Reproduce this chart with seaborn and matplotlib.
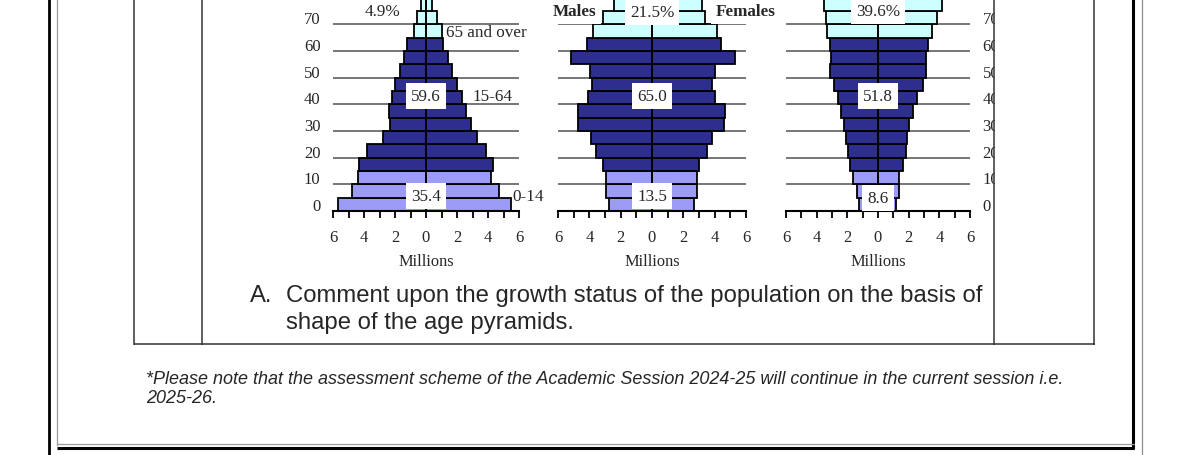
import matplotlib
matplotlib.use("Agg")
import matplotlib.pyplot as plt
import matplotlib.transforms as mtransforms
from matplotlib.patches import Rectangle
from matplotlib.ticker import MultipleLocator
import pandas as pd
import seaborn as sns

# ---- data -------------------------------------------------------------
age_start = [0, 5, 10, 15, 20, 25, 30, 35, 40, 45, 50, 55, 60, 65, 70, 75]
age_group = ["0-14"] * 3 + ["15-64"] * 10 + ["65+"] * 3

# millions, youngest group first
males_1 = [5.7, 4.8, 4.4, 4.3, 3.8, 2.8, 2.3, 2.4, 2.2, 2.0, 1.7, 1.4, 1.2, 0.8, 0.55, 0.3]
females_1 = [5.5, 4.7, 4.2, 4.3, 3.9, 3.3, 2.9, 2.6, 2.3, 2.0, 1.7, 1.4, 1.1, 1.0, 0.7, 0.4]

males_2 = [2.75, 2.95, 2.95, 3.15, 3.6, 3.9, 4.7, 4.7, 4.1, 3.85, 3.95, 5.15, 4.15, 3.75, 3.15, 2.4]
females_2 = [2.7, 2.85, 2.9, 3.0, 3.5, 3.85, 4.6, 4.65, 4.0, 3.8, 4.0, 5.3, 4.4, 4.15, 3.4, 3.2]

males_3 = [1.25, 1.35, 1.6, 1.8, 1.95, 2.1, 2.25, 2.4, 2.6, 2.9, 3.1, 3.05, 3.15, 3.3, 3.4, 3.55]
females_3 = [1.15, 1.35, 1.4, 1.6, 1.8, 1.9, 2.05, 2.25, 2.55, 2.95, 3.15, 3.1, 3.25, 3.55, 3.85, 4.2]

# share labels per panel: (0-14, 15-64, 65+)
shares_1 = ["35.4", "59.6", "4.9%"]
shares_2 = ["13.5", "65.0", "21.5%"]
shares_3 = ["8.6", "51.8", "39.6%"]

age_ticks = [0, 10, 20, 30, 40, 50, 60, 70]
age_tick_labels = ["0", "10", "20", "30", "40", "50", "60", "70"]
x_ticks = [-6, -4, -2, 0, 2, 4, 6]
x_tick_labels = ["6", "4", "2", "0", "2", "4", "6"]

group_colors = {"0-14": "#9c9cf7", "15-64": "#2e2e8e", "65+": "#ccffff"}

question = "Comment upon the growth status of the population on the basis of"
question_2 = "shape of the age pyramids."
note_1 = ("*Please note that the assessment scheme of the Academic Session 2024-25 "
          "will continue in the current session i.e.")
note_2 = "2025-26."

# ---- figure -----------------------------------------------------------
sns.set_style("white")
plt.rcParams["font.family"] = ["Liberation Serif", "DejaVu Serif"]

W, H = 1191, 456
fig = plt.figure(figsize=(W / 100, H / 100), dpi=100)
fig.patch.set_facecolor("white")

PX_PER_YEAR = 2.667
YTOP = 85
FS = 12.3


def panel_axes(x0, x1, base):
    h = YTOP * PX_PER_YEAR
    return fig.add_axes([x0 / W, (H - base) / H, (x1 - x0) / W, h / H])


def pyramid(ax, males, females, side):
    for vals, sign in ((males, -1), (females, 1)):
        df = pd.DataFrame({
            "age": [a + 2.5 for a in age_start],
            "pop": [sign * v for v in vals],
            "group": age_group,
        })
        sns.barplot(data=df, x="pop", y="age", hue="group", palette=group_colors,
                    orient="y", native_scale=True, dodge=False, width=1,
                    saturation=1, errorbar=None, edgecolor="black",
                    linewidth=1.3, legend=False, ax=ax)
    ax.axvline(0, color="black", lw=1.3, zorder=3)
    ax.set_xlim(-6, 6)
    ax.set_ylim(0, YTOP)
    ax.set_facecolor("none")
    for s in ("left", "right", "top"):
        ax.spines[s].set_visible(False)
    ax.spines["bottom"].set_color("black")
    ax.spines["bottom"].set_linewidth(1.5)
    ax.set_xticks(x_ticks)
    ax.set_xticklabels(x_tick_labels)
    ax.xaxis.set_minor_locator(MultipleLocator(1))
    ax.tick_params(axis="x", which="both", direction="out", length=5, width=1.3,
                   color="black", labelsize=FS - 0.3, pad=8, bottom=True)
    ax.set_xlabel("Millions", fontsize=FS - 0.5, labelpad=6)
    ax.set_ylabel("")
    ax.set_yticks(age_ticks)
    ax.yaxis.grid(True, color="#767676", lw=1.4)
    ax.xaxis.grid(False)
    ax.set_axisbelow(True)
    if side == "left":
        ax.set_yticklabels(age_tick_labels)
        ax.tick_params(axis="y", length=0, labelsize=FS - 0.3, pad=9)
    elif side == "right":
        ax.yaxis.tick_right()
        ax.set_yticklabels(age_tick_labels)
        ax.tick_params(axis="y", length=0, labelsize=FS - 0.3, pad=9)
    else:
        ax.tick_params(axis="y", length=0, labelleft=False)
    off = mtransforms.ScaledTranslation(0, 7 / 100, fig.dpi_scale_trans)
    for lab in ax.get_yticklabels():
        lab.set_transform(lab.get_transform() + off)


box = dict(boxstyle="square,pad=0.3", fc="white", ec="none")
tstyle = dict(fontsize=FS, ha="center", va="center", zorder=5)

ax1 = panel_axes(333, 519, 212)
pyramid(ax1, males_1, females_1, "left")
ax1.text(0, 5.6, shares_1[0], bbox=box, **tstyle)
ax1.text(0, 43, shares_1[1], bbox=box, **tstyle)
ax1.text(-2.8, 75, shares_1[2], **tstyle)
ax1.text(5.6, 5.6, "0-14", fontsize=FS, ha="left", va="center", clip_on=False)
ax1.text(4.3, 43, "15-64", **tstyle)
ax1.text(1.3, 67, "65 and over", fontsize=FS, ha="left", va="center")

ax2 = panel_axes(558, 746, 212)
pyramid(ax2, males_2, females_2, None)
ax2.text(0, 5.6, shares_2[0], bbox=box, **tstyle)
ax2.text(0, 43, shares_2[1], bbox=box, **tstyle)
ax2.text(0, 74.8, shares_2[2], bbox=box, **tstyle)
ax2.text(-4.95, 75, "Males", fontweight="bold", bbox=box, **tstyle)
ax2.text(6.0, 75, "Females", fontweight="bold", bbox=box, **tstyle)

ax3 = panel_axes(786, 970, 212)
pyramid(ax3, males_3, females_3, "right")
ax3.text(0, 4.9, shares_3[0], bbox=box, **tstyle)
ax3.text(0, 43, shares_3[1], bbox=box, **tstyle)
ax3.text(0, 75, shares_3[2], bbox=box, **tstyle)

# ---- page frame and table (pixel coordinates) -------------------------
page = fig.add_axes([0, 0, 1, 1], zorder=10)
page.set_xlim(0, W)
page.set_ylim(H, 0)
page.axis("off")
page.patch.set_alpha(0)

page.add_patch(Rectangle((995, -2), 98, 346, fc="white", ec="none"))
tbl = dict(color="#333333", lw=1.1, solid_capstyle="butt")
for x in (134, 202, 994, 1094):
    page.plot([x, x], [0, 345.5], **tbl)
page.plot([134, 1094.5], [345, 345], **tbl)

page.plot([49, 49], [0, H], color="black", lw=2, solid_capstyle="butt")
page.plot([57, 57], [0, 446], color="#9a9a9a", lw=0.9)
page.plot([1133, 1133], [0, 450], color="black", lw=2.2, solid_capstyle="butt")
page.plot([1142, 1142], [0, H], color="#8a8a8a", lw=0.9)
page.plot([57, 1134], [445, 445], color="#9a9a9a", lw=0.9)
page.plot([57, 1134], [449, 449], color="black", lw=2.2, solid_capstyle="butt")

sans = ["Liberation Sans", "DejaVu Sans"]
page.text(250, 302, "A.", fontsize=17.2, family=sans, va="baseline")
page.text(286, 302, question, fontsize=17.2, family=sans, va="baseline")
page.text(286, 329, question_2, fontsize=17.2, family=sans, va="baseline")
page.text(146, 384, note_1, fontsize=13, family=sans, style="italic", va="baseline")
page.text(146, 403, note_2, fontsize=13, family=sans, style="italic", va="baseline")

fig.savefig("out.png", dpi=100, facecolor="white")
